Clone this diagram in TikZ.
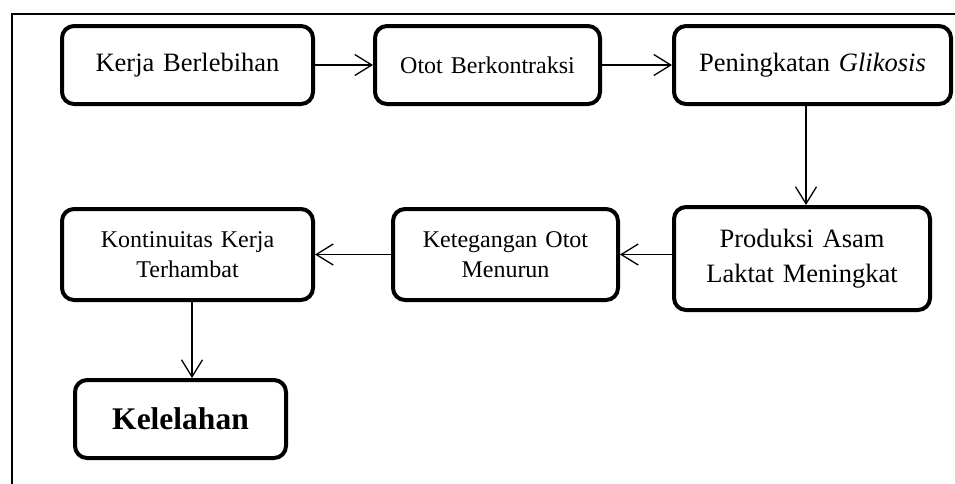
\documentclass[tikz,border=0pt]{standalone}
\usepackage{fontspec}
\setmainfont{Liberation Serif}
\usetikzlibrary{arrows.meta}
\begin{document}
\begin{tikzpicture}[x=1pt,y=-1pt,
  box/.style={draw, line width=4pt, rounded corners=12pt, inner sep=0pt, align=center, text width=#1, minimum width=#1},
  big/.style={font=\fontsize{26.5}{35}\selectfont},
  small/.style={font=\fontsize{24}{30}\selectfont},
  arr/.style={line width=1.3pt, -{Straight Barb[length=17pt,width=21pt,line width=1.3pt]}}
]
\useasboundingbox (0,0) rectangle (955,483);
\draw[line width=1.5pt] (12,484) -- (12,14) -- (956,14);

\node[box=251pt, minimum height=78pt, big] (b1) at (187.5,65) {Kerja Berlebihan};
\node[box=225pt, minimum height=78pt, small] (b2) at (487.5,65) {Otot Berkontraksi};
\node[box=277pt, minimum height=78pt, big] (b3) at (812.5,65) {Peningkatan \textit{Glikosis}};
\node[box=256pt, minimum height=103pt, big] (b4) at (802,258.5) {Produksi Asam\\Laktat Meningkat};
\node[box=225pt, minimum height=91pt, small] (b5) at (505.5,254.5) {Ketegangan Otot\\Menurun};
\node[box=251pt, minimum height=91pt, small] (b6) at (187.5,254.5) {Kontinuitas Kerja\\Terhambat};
\node[box=211pt, minimum height=78pt, font=\fontsize{31.5}{38}\selectfont\bfseries] (b7) at (180.5,419) {Kelelahan};

\draw[arr] (b1.east) -- (b2.west);
\draw[arr] (b2.east) -- (b3.west);
\draw[arr] ([xshift=-6.5pt]b3.south) -- ([xshift=4pt]b4.north);
\draw[arr] (b4.west |- b5.east) -- (b5.east);
\draw[arr] (b5.west) -- (b6.east);
\draw[arr] ([xshift=4.5pt]b6.south) -- ([xshift=4.5pt]b6.south |- b7.north);
\end{tikzpicture}
\end{document}
